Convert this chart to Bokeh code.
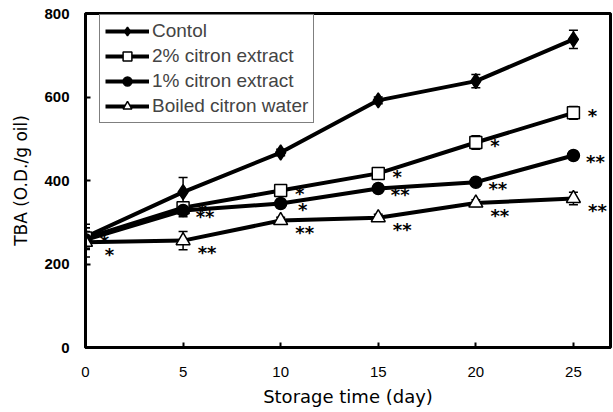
from bokeh.plotting import figure
from bokeh.models import ColumnDataSource, Whisker, TeeHead, Legend, LegendItem, FixedTicker
from bokeh.core.properties import value
from bokeh.embed import file_html
from bokeh.resources import INLINE

# ---- data ----
days = [0, 5, 10, 15, 20, 25]
control = [265, 372, 467, 592, 638, 738]
citron2 = [262, 335, 376, 417, 491, 562]
citron1 = [258, 328, 345, 381, 396, 460]
boiled = [252, 256, 304, 311, 346, 357]

err_control = [30, 35, 8, 8, 16, 22]
err_citron2 = [25, 10, 10, 10, 16, 15]
err_citron1 = [20, 15, 10, 10, 10, 10]
err_boiled = [35, 22, 8, 8, 8, 15]

sig_citron2 = ["*", "*", "*", "*", "*", "*"]
sig_citron1 = ["", "**", "*", "**", "**", "**"]
sig_boiled = ["*", "**", "**", "**", "**", "**"]

names = ["Contol", "2% citron extract", "1% citron extract", "Boiled citron water"]
y_ticks = [0, 200, 400, 600, 800]
x_ticks = [0, 5, 10, 15, 20, 25]

p = figure(width=613, height=412, output_backend="svg", toolbar_location=None,
           x_range=(0, 26.9), y_range=(0, 800),
           min_border_left=85, min_border_right=3, min_border_top=13, min_border_bottom=65)
p.background_fill_color = "white"
p.border_fill_color = "white"
p.xgrid.visible = False
p.ygrid.visible = False
p.outline_line_color = "black"
p.outline_line_width = 3

series = [
    (control, err_control, "diamond", "black", 15, None),
    (citron2, err_citron2, "square", "white", 12, sig_citron2),
    (citron1, err_citron1, "circle", "black", 12, sig_citron1),
    (boiled, err_boiled, "triangle", "white", 14, sig_boiled),
]
offsets = {1: (19, 3), 2: (22, 6), 3: (24, 12)}

items = []
for i, (vals, errs, marker, fill, size, sig) in enumerate(series):
    src = ColumnDataSource(dict(x=days, y=vals,
                                lo=[v - e for v, e in zip(vals, errs)],
                                hi=[v + e for v, e in zip(vals, errs)]))
    w = Whisker(source=src, base="x", upper="hi", lower="lo", line_color="black", line_width=1.5,
                upper_head=TeeHead(size=9, line_color="black", line_width=1.5),
                lower_head=TeeHead(size=9, line_color="black", line_width=1.5))
    p.add_layout(w)
    r1 = p.line("x", "y", source=src, line_color="black", line_width=4)
    r2 = p.scatter("x", "y", source=src, marker=marker, size=size, fill_color=fill,
                   line_color="black", line_width=1.5)
    items.append(LegendItem(label=names[i], renderers=[r1, r2]))
    if sig is not None:
        dx, dy = offsets[i]
        tsrc = ColumnDataSource(dict(x=days, y=vals, t=sig))
        p.text("x", "y", text="t", source=tsrc, x_offset=dx, y_offset=dy,
               text_font=value("DejaVu Sans"), text_font_style="bold", text_font_size="18px",
               text_align="center", text_baseline="middle", text_color="black")

legend = Legend(items=items, location=(14, 224))
legend.label_text_font = "Liberation Sans"
legend.label_text_font_size = "19px"
legend.glyph_width = 44
legend.glyph_height = 22
legend.label_height = 22
legend.label_standoff = 3
legend.spacing = 3
legend.padding = 5
legend.margin = 0
legend.border_line_color = "black"
legend.border_line_width = 1
legend.background_fill_alpha = 1
p.add_layout(legend)

for ax in (p.xaxis[0], p.yaxis[0]):
    ax.axis_line_width = 3
    ax.axis_line_color = "black"
    ax.major_tick_in = 5
    ax.major_tick_out = 0
    ax.major_tick_line_width = 2
    ax.minor_tick_line_color = None
    ax.major_label_text_color = "black"
    ax.axis_label_text_color = "black"
    ax.axis_label_text_font_style = "normal"

p.xaxis.ticker = FixedTicker(ticks=x_ticks)
p.yaxis.ticker = FixedTicker(ticks=y_ticks)
p.xaxis.major_label_text_font = "Liberation Sans"
p.xaxis.major_label_text_font_size = "15px"
p.xaxis.major_label_standoff = 19
p.yaxis.major_label_text_font = "Liberation Sans"
p.yaxis.major_label_text_font_size = "15px"
p.yaxis.major_label_text_font_style = "bold"
p.yaxis.major_label_standoff = 16

p.xaxis.axis_label = "Storage time (day)"
p.yaxis.axis_label = "TBA (O.D./g oil)"
p.xaxis.axis_label_text_font = "DejaVu Sans"
p.yaxis.axis_label_text_font = "DejaVu Sans"
p.xaxis.axis_label_text_font_size = "18px"
p.yaxis.axis_label_text_font_size = "17px"
p.xaxis.axis_label_standoff = 6
p.yaxis.axis_label_standoff = 10

open("out.html", "w").write(file_html(p, INLINE))
